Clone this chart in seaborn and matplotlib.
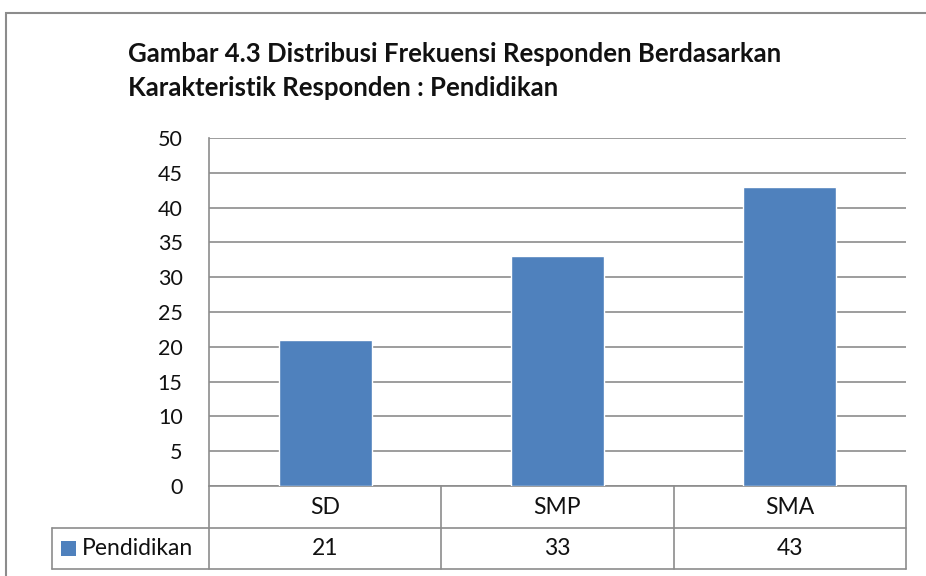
import matplotlib
matplotlib.use("Agg")
import matplotlib.pyplot as plt
from matplotlib.patches import Rectangle
import seaborn as sns
import pandas as pd

categories = ["SD", "SMP", "SMA"]
counts = [21, 33, 43]
series_name = "Pendidikan"
title_lines = ["Gambar 4.3 Distribusi Frekuensi Responden Berdasarkan",
               "Karakteristik Responden : Pendidikan"]
y_ticks = list(range(0, 55, 5))

BAR_COLOR = "#4F81BD"
LINE_COLOR = "#8C8C8C"
FONT = ["Lato", "DejaVu Sans"]

sns.set_style("white")
plt.rcParams["font.family"] = FONT

df = pd.DataFrame({"cat": categories, "n": counts})

fig = plt.figure(figsize=(9.26, 5.76), dpi=100)
ax = fig.add_axes([209 / 926, 1 - 486 / 576, 697 / 926, 348 / 576])

sns.barplot(data=df, x="cat", y="n", color=BAR_COLOR, width=0.4,
            saturation=1, ax=ax, zorder=3)

ax.set_ylim(0, 50)
ax.set_yticks(y_ticks)
ax.set_yticklabels([str(t) for t in y_ticks], fontsize=15.5, color="#111111")
ax.tick_params(axis="y", length=0, pad=19)
ax.set_xticks([])
ax.set_xlabel("")
ax.set_ylabel("")
ax.grid(axis="y", color=LINE_COLOR, linewidth=1.2, zorder=0)
for side in ["top", "bottom", "right"]:
    ax.spines[side].set_visible(False)
ax.spines["left"].set_color(LINE_COLOR)
ax.spines["left"].set_linewidth(1.2)

# data table under the plot area
n = len(categories)
r1 = -(528 - 486) / 348
r2 = -(569 - 486) / 348
leg_x = (52 - 209) / 697
lk = dict(color=LINE_COLOR, linewidth=1.2, transform=ax.transAxes, clip_on=False)
ax.plot([0, 1], [0, 0], **lk)
ax.plot([leg_x, 1], [r1, r1], **lk)
ax.plot([leg_x, 1], [r2, r2], **lk)
ax.plot([leg_x, leg_x], [r1, r2], **lk)
for i in range(n + 1):
    ax.plot([i / n, i / n], [0, r2], **lk)
for i, (c, v) in enumerate(zip(categories, counts)):
    ax.text((i + 0.5) / n, r1 / 2, c, ha="center", va="center",
            fontsize=16.5, color="#111111", transform=ax.transAxes)
    ax.text((i + 0.5) / n, (r1 + r2) / 2, str(v), ha="center", va="center",
            fontsize=16.5, color="#111111", transform=ax.transAxes)
ax.add_patch(Rectangle((leg_x + 9 / 697, (r1 + r2) / 2 - 7.5 / 348), 15 / 697, 15 / 348,
                       facecolor=BAR_COLOR, edgecolor="none",
                       transform=ax.transAxes, clip_on=False))
ax.text(leg_x + 30 / 697, (r1 + r2) / 2, series_name, ha="left", va="center",
        fontsize=16.5, color="#111111", transform=ax.transAxes)

ax.set_xlim(-0.5, n - 0.5)

# title
fig.text(128 / 926, 1 - 62 / 576, title_lines[0], ha="left", va="baseline",
         fontsize=18.5, fontweight="bold", color="#111111")
fig.text(128 / 926, 1 - 96 / 576, title_lines[1], ha="left", va="baseline",
         fontsize=18.5, fontweight="bold", color="#111111")

# outer chart border (cropped on right and bottom)
fig.add_artist(Rectangle((6 / 926, -0.05), 1.0, 1.05 - 13 / 576,
                         facecolor="none", edgecolor=LINE_COLOR, linewidth=1.5,
                         transform=fig.transFigure))

fig.savefig("out.png", dpi=100)
